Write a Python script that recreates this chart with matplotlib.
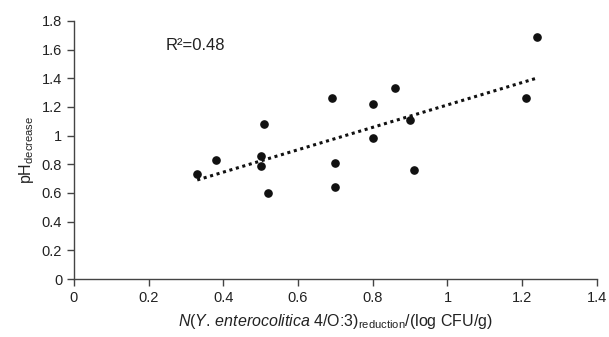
import matplotlib.pyplot as plt
import numpy as np

plt.rcParams["font.family"] = ["Liberation Sans", "DejaVu Sans"]
plt.rcParams["mathtext.fontset"] = "custom"
plt.rcParams["mathtext.rm"] = "Liberation Sans"
plt.rcParams["mathtext.it"] = "Liberation Sans:italic"

# data
x_reduction = [0.33, 0.38, 0.50, 0.50, 0.51, 0.52, 0.69, 0.70, 0.70, 0.80, 0.80, 0.86, 0.90, 0.91, 1.21, 1.24]
ph_decrease = [0.73, 0.83, 0.86, 0.79, 1.08, 0.60, 1.26, 0.81, 0.64, 1.22, 0.98, 1.33, 1.11, 0.76, 1.26, 1.69]
x_ticks = [0, 0.2, 0.4, 0.6, 0.8, 1, 1.2, 1.4]
y_ticks = [0, 0.2, 0.4, 0.6, 0.8, 1, 1.2, 1.4, 1.6, 1.8]

x = np.array(x_reduction)
y = np.array(ph_decrease)
slope, intercept = np.polyfit(x, y, 1)
xs = np.array([x.min(), x.max()])

fig = plt.figure(figsize=(6.09, 3.37), dpi=100)
ax = fig.add_axes([0.1215, 0.172, 0.8585, 0.766])

ax.plot(xs, slope * xs + intercept, color="#111111", linestyle=(0, (1, 1.2)), linewidth=2.2)
ax.plot(x, y, "o", color="#111111", markersize=5.2)

ax.set_xlim(0, 1.4)
ax.set_ylim(0, 1.8)
ax.set_xticks(x_ticks)
ax.set_xticklabels(["0", "0.2", "0.4", "0.6", "0.8", "1", "1.2", "1.4"])
ax.set_yticks(y_ticks)
ax.set_yticklabels(["0", "0.2", "0.4", "0.6", "0.8", "1", "1.2", "1.4", "1.6", "1.8"])

for s in ["top", "right"]:
    ax.spines[s].set_visible(False)
for s in ["left", "bottom"]:
    ax.spines[s].set_color("#444444")
    ax.spines[s].set_linewidth(1.0)
ax.tick_params(colors="#444444", labelcolor="#222222", labelsize=10.5, length=5, width=1.0)

ax.text(0.245, 1.63, "R²=0.48", fontsize=12, color="#222222", va="center")

ax.set_ylabel(r"pH$_{\mathregular{decrease}}$", fontsize=11.5, color="#222222", labelpad=4)
ax.set_xlabel(
    r"$\mathit{N}$($\mathit{Y.\,enterocolitica}$ 4/O:3)$_{\mathregular{reduction}}$/(log CFU/g)",
    fontsize=11.5, color="#222222", labelpad=5,
)

plt.savefig("out.png", dpi=100)
